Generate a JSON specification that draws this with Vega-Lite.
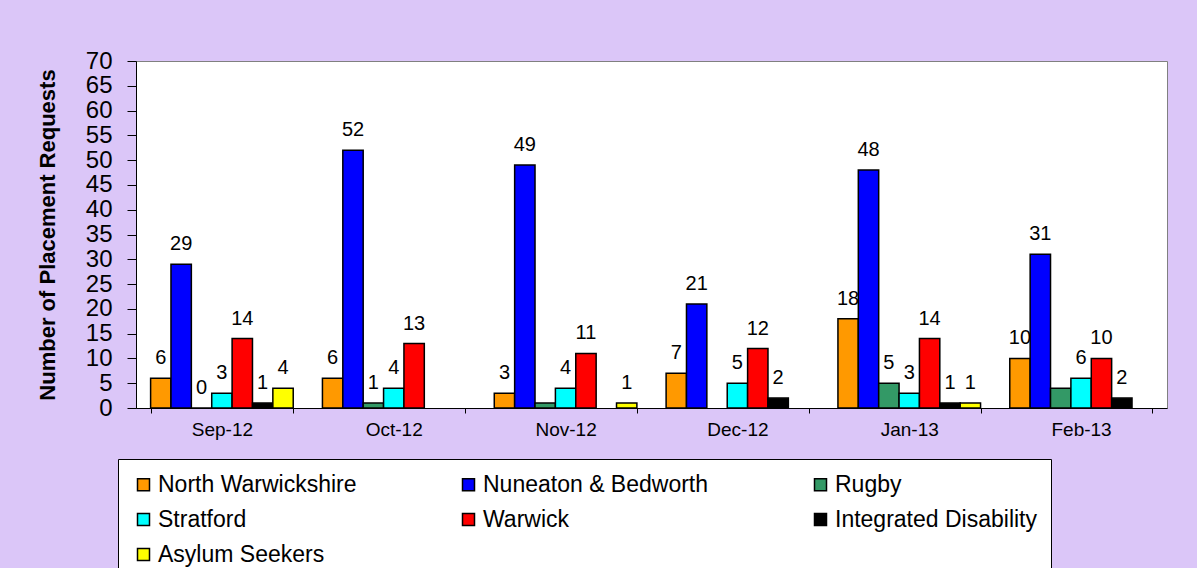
{
  "$schema": "https://vega.github.io/schema/vega-lite/v6.json",
  "autosize": {"type": "none"},
  "padding": {"left": 136, "top": 61, "right": 30, "bottom": 160},
  "width": 1031,
  "height": 347,
  "background": "#dbc6f8",
  "config": {
    "font": "Liberation Sans",
    "view": {"fill": "white", "stroke": "#808080", "strokeWidth": 1}
  },
  "data": {
    "values": [
      {"month": "Sep-12", "region": "North Warwickshire", "value": 6},
      {"month": "Sep-12", "region": "Nuneaton & Bedworth", "value": 29},
      {"month": "Sep-12", "region": "Rugby", "value": 0},
      {"month": "Sep-12", "region": "Stratford", "value": 3},
      {"month": "Sep-12", "region": "Warwick", "value": 14},
      {"month": "Sep-12", "region": "Integrated Disability", "value": 1},
      {"month": "Sep-12", "region": "Asylum Seekers", "value": 4},
      {"month": "Oct-12", "region": "North Warwickshire", "value": 6},
      {"month": "Oct-12", "region": "Nuneaton & Bedworth", "value": 52},
      {"month": "Oct-12", "region": "Rugby", "value": 1},
      {"month": "Oct-12", "region": "Stratford", "value": 4},
      {"month": "Oct-12", "region": "Warwick", "value": 13},
      {"month": "Nov-12", "region": "North Warwickshire", "value": 3},
      {"month": "Nov-12", "region": "Nuneaton & Bedworth", "value": 49},
      {"month": "Nov-12", "region": "Rugby", "value": 1},
      {"month": "Nov-12", "region": "Stratford", "value": 4},
      {"month": "Nov-12", "region": "Warwick", "value": 11},
      {"month": "Nov-12", "region": "Asylum Seekers", "value": 1},
      {"month": "Dec-12", "region": "North Warwickshire", "value": 7},
      {"month": "Dec-12", "region": "Nuneaton & Bedworth", "value": 21},
      {"month": "Dec-12", "region": "Stratford", "value": 5},
      {"month": "Dec-12", "region": "Warwick", "value": 12},
      {"month": "Dec-12", "region": "Integrated Disability", "value": 2},
      {"month": "Jan-13", "region": "North Warwickshire", "value": 18},
      {"month": "Jan-13", "region": "Nuneaton & Bedworth", "value": 48},
      {"month": "Jan-13", "region": "Rugby", "value": 5},
      {"month": "Jan-13", "region": "Stratford", "value": 3},
      {"month": "Jan-13", "region": "Warwick", "value": 14},
      {"month": "Jan-13", "region": "Integrated Disability", "value": 1},
      {"month": "Jan-13", "region": "Asylum Seekers", "value": 1},
      {"month": "Feb-13", "region": "North Warwickshire", "value": 10},
      {"month": "Feb-13", "region": "Nuneaton & Bedworth", "value": 31},
      {"month": "Feb-13", "region": "Rugby", "value": 4},
      {"month": "Feb-13", "region": "Stratford", "value": 6},
      {"month": "Feb-13", "region": "Warwick", "value": 10},
      {"month": "Feb-13", "region": "Integrated Disability", "value": 2}
    ]
  },
  "encoding": {
    "x": {
      "field": "month",
      "type": "nominal",
      "sort": ["Sep-12", "Oct-12", "Nov-12", "Dec-12", "Jan-13", "Feb-13"],
      "scale": {"paddingInner": 0.17, "paddingOuter": 0.085},
      "axis": {
        "title": null,
        "labelAngle": 0,
        "labelFontSize": 19,
        "labelColor": "black",
        "labelPadding": 7,
        "domainColor": "black",
        "tickColor": "black",
        "tickSize": 5,
        "tickBand": "extent"
      }
    },
    "xOffset": {
      "field": "region",
      "type": "nominal",
      "sort": ["North Warwickshire", "Nuneaton & Bedworth", "Rugby", "Stratford", "Warwick", "Integrated Disability", "Asylum Seekers"],
      "scale": {"domain": ["North Warwickshire", "Nuneaton & Bedworth", "Rugby", "Stratford", "Warwick", "Integrated Disability", "Asylum Seekers"], "paddingInner": 0, "paddingOuter": 0}
    },
    "y": {
      "field": "value",
      "type": "quantitative",
      "scale": {"domain": [0, 70], "nice": false},
      "axis": {
        "title": "Number of Placement Requests",
        "titleFontSize": 22,
        "titleFontWeight": "bold",
        "titleColor": "black",
        "titlePadding": 26,
        "values": [0, 5, 10, 15, 20, 25, 30, 35, 40, 45, 50, 55, 60, 65, 70],
        "labelFontSize": 24,
        "labelColor": "black",
        "labelPadding": 15,
        "labelOverlap": false,
        "domainColor": "black",
        "tickColor": "black",
        "tickSize": 9,
        "grid": false
      }
    }
  },
  "layer": [
    {
      "mark": {"type": "bar", "stroke": "black", "strokeWidth": 1.5},
      "encoding": {
        "color": {
          "field": "region",
          "type": "nominal",
          "sort": ["North Warwickshire", "Nuneaton & Bedworth", "Rugby", "Stratford", "Warwick", "Integrated Disability", "Asylum Seekers"],
          "scale": {
            "domain": ["North Warwickshire", "Nuneaton & Bedworth", "Rugby", "Stratford", "Warwick", "Integrated Disability", "Asylum Seekers"],
            "range": ["#FF9900", "#0000FF", "#339966", "#00FFFF", "#FF0000", "#000000", "#FFFF00"]
          },
          "legend": {
            "title": null,
            "orient": "none",
            "legendX": -18,
            "legendY": 398,
            "direction": "horizontal",
            "columns": 3,
            "columnPadding": 100,
            "rowPadding": 11,
            "fillColor": "white",
            "strokeColor": "black",
            "padding": 14,
            "symbolType": "square",
            "symbolSize": 144,
            "symbolStrokeColor": "black",
            "symbolStrokeWidth": 1.5,
            "symbolOpacity": 1,
            "labelFontSize": 23,
            "labelColor": "black",
            "labelOffset": 3,
            "labelLimit": 400
          }
        }
      }
    },
    {
      "transform": [
        {"filter": "!(datum.region == 'Rugby' && (datum.month == 'Nov-12' || datum.month == 'Feb-13'))"}
      ],
      "mark": {"type": "text", "fontSize": 20, "color": "black", "baseline": "alphabetic", "dy": -14},
      "encoding": {
        "text": {"field": "value", "type": "quantitative"}
      }
    }
  ]
}
